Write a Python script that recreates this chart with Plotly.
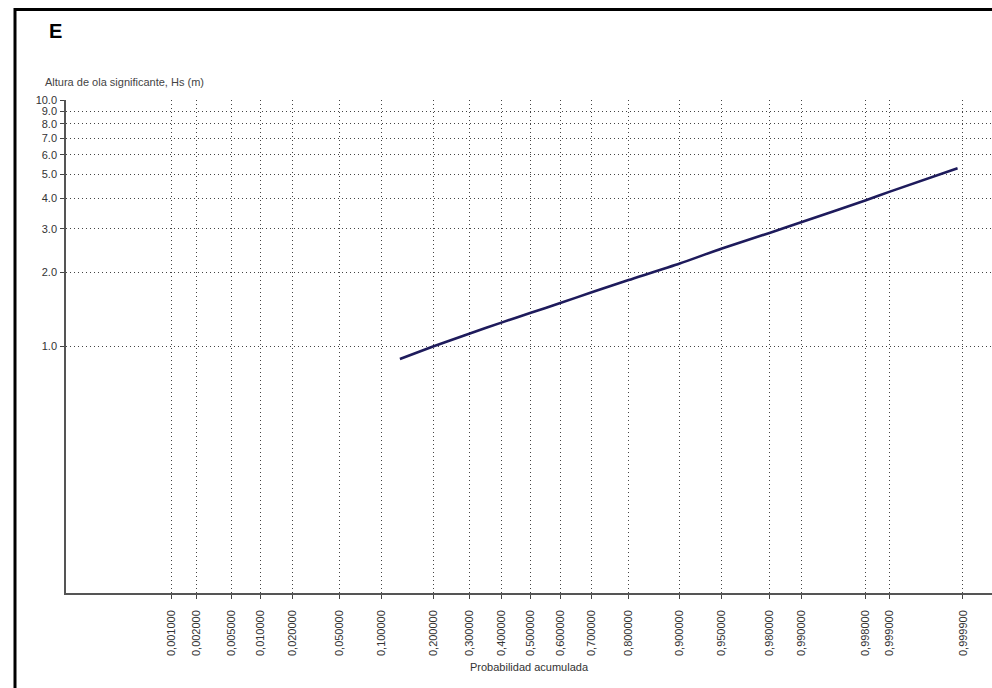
from statistics import NormalDist
import plotly.graph_objects as go

# Cumulative probability ticks (normal probability paper) and their labels
prob_ticks = [0.001, 0.002, 0.005, 0.01, 0.02, 0.05, 0.1, 0.2, 0.3, 0.4, 0.5,
              0.6, 0.7, 0.8, 0.9, 0.95, 0.98, 0.99, 0.998, 0.999, 0.9999]
prob_labels = ["0,001000", "0,002000", "0,005000", "0,010000", "0,020000",
               "0,050000", "0,100000", "0,200000", "0,300000", "0,400000",
               "0,500000", "0,600000", "0,700000", "0,800000", "0,900000",
               "0,950000", "0,980000", "0,990000", "0,998000", "0,999000",
               "0,999900"]

# Significant wave height axis ticks
hs_ticks = [1, 2, 3, 4, 5, 6, 7, 8, 9, 10]
hs_labels = ["1.0", "2.0", "3.0", "4.0", "5.0", "6.0", "7.0", "8.0", "9.0", "10.0"]

# Fitted distribution: cumulative probability vs Hs (m)
curve_prob = [0.13, 0.2, 0.3, 0.4, 0.5, 0.6, 0.7, 0.8, 0.9, 0.95, 0.98,
              0.99, 0.998, 0.999, 0.99988]
curve_hs = [0.89, 1.00, 1.13, 1.25, 1.37, 1.50, 1.66, 1.86, 2.17, 2.50, 2.89,
            3.19, 3.91, 4.25, 5.29]

nd = NormalDist()
to_z = nd.inv_cdf

fig = go.Figure()
fig.add_trace(go.Scatter(
    x=[to_z(p) for p in curve_prob],
    y=curve_hs,
    mode="lines",
    line=dict(color="#1e1b5c", width=2.6, shape="spline", smoothing=0.6),
    hoverinfo="skip",
    showlegend=False,
))

W, H = 992, 688
ml, mr, mt, mb = 66, 0, 100, 95
pw, ph = W - ml - mr, H - mt - mb

def px_x(px):
    return (px - ml) / pw

def px_y(py):
    return (H - mb - py) / ph

grid_kw = dict(showgrid=True, gridcolor="#444444", gridwidth=1, griddash="1px,3px")
family = "Liberation Sans, Arial, sans-serif"

fig.update_layout(
    width=W, height=H,
    margin=dict(l=ml, r=mr, t=mt, b=mb, pad=0),
    paper_bgcolor="white",
    plot_bgcolor="white",
    xaxis=dict(
        range=[-4.0, 3.969],
        tickmode="array",
        tickvals=[to_z(p) for p in prob_ticks],
        ticktext=prob_labels,
        tickangle=-90,
        tickfont=dict(family=family, size=11, color="#333333"),
        ticks="outside", ticklen=4, tickwidth=1, tickcolor="#444444",
        ticklabelstandoff=7,
        showline=True, linecolor="#555555", linewidth=1.5,
        zeroline=False,
        **grid_kw,
    ),
    yaxis=dict(
        type="log",
        range=[-1, 1],
        tickmode="array",
        tickvals=hs_ticks,
        ticktext=hs_labels,
        tickfont=dict(family=family, size=11, color="#333333"),
        ticks="outside", ticklen=4, tickwidth=1, tickcolor="#444444",
        ticklabelstandoff=1,
        showline=True, linecolor="#555555", linewidth=1.5,
        zeroline=False,
        **grid_kw,
    ),
    shapes=[dict(
        type="rect", xref="paper", yref="paper",
        x0=px_x(15), x1=px_x(1010), y0=px_y(710), y1=px_y(9.5),
        line=dict(color="black", width=3),
        fillcolor="rgba(0,0,0,0)",
        layer="above",
    )],
    annotations=[
        dict(text="<b>E</b>", xref="paper", yref="paper",
             x=px_x(47), y=px_y(31), xanchor="left", yanchor="middle",
             showarrow=False,
             font=dict(family=family, size=20, color="black")),
        dict(text="Altura de ola significante, Hs (m)", xref="paper", yref="paper",
             x=px_x(43), y=px_y(82), xanchor="left", yanchor="middle",
             showarrow=False,
             font=dict(family=family, size=11, color="#444444")),
        dict(text="Probabilidad acumulada", xref="paper", yref="paper",
             x=px_x(529), y=px_y(667), xanchor="center", yanchor="middle",
             showarrow=False,
             font=dict(family=family, size=11, color="#333333")),
    ],
)

fig.write_html("out.html")
